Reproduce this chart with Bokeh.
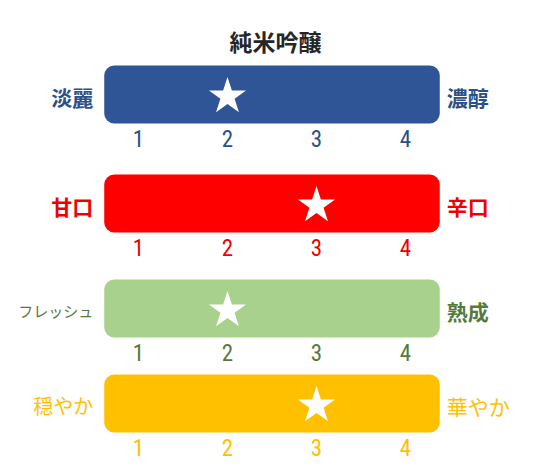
from bokeh.plotting import figure
from bokeh.models import Range1d, ColumnDataSource
from bokeh.core.properties import value
from bokeh.embed import file_html
from bokeh.resources import INLINE

# ---- data ----
title = "純米吟醸"
left_labels = ["淡麗", "甘口", "フレッシュ", "穏やか"]
right_labels = ["濃醇", "辛口", "熟成", "華やか"]
scores = [2, 3, 2, 3]
ticks = [1, 2, 3, 4]
tick_labels = ["1", "2", "3", "4"]

# ---- styles / layout ----
bar_colors = ["#2F5597", "#FF0000", "#A9D18E", "#FFC000"]
text_colors = ["#2C5085", "#F00000", "#557A3C", "#FFC000"]
left_sizes = ["21px", "21px", "15px", "20px"]
left_weights = ["bold", "bold", "normal", "normal"]
right_weights = ["bold", "bold", "bold", "normal"]
row_y = [94, 203, 308, 403]          # vertical centre of each bar (px from page top)
bar_half = 29
bar_pad = 0.385                      # bar extends beyond the first/last tick
CJK = "Noto Sans CJK JP"
NUM = "'Roboto Condensed', 'Roboto Light', 'DejaVu Sans Condensed', sans-serif"

W, H = 545, 470
x0, x1 = 1 - 138 / 89, 1 + (W - 138) / 89

p = figure(width=W, height=H, output_backend="svg", toolbar_location=None,
           x_range=Range1d(x0, x1), y_range=Range1d(H, 0),
           min_border=0, min_border_left=0, min_border_right=0,
           min_border_top=0, min_border_bottom=0)
p.axis.visible = False
p.grid.visible = False
p.outline_line_color = None
p.background_fill_color = "white"
p.border_fill_color = "white"

lo, hi = min(ticks) - bar_pad, max(ticks) + bar_pad

# bars
p.quad(left=[lo] * 4, right=[hi] * 4,
       top=[y - bar_half for y in row_y], bottom=[y + bar_half for y in row_y],
       fill_color=bar_colors, line_color=None, border_radius=10)

# stars
p.scatter(x=scores, y=[y + 2 for y in row_y], marker="star", size=39,
          fill_color="white", line_color=None)

# title
p.text(x=[(lo + hi) / 2 + 0.04], y=[40], text=[title], text_align="center",
       text_baseline="middle", text_font=value(CJK), text_font_size="23px",
       text_font_style="bold", text_color="#262626")

for i in range(4):
    # left / right labels
    p.text(x=[lo], y=[row_y[i] + 2], text=[left_labels[i]], x_offset=-11,
           text_align="right", text_baseline="middle", text_font=value(CJK),
           text_font_size=left_sizes[i], text_font_style=left_weights[i],
           text_color=text_colors[i])
    p.text(x=[hi], y=[row_y[i] + 2], text=[right_labels[i]], x_offset=7,
           text_align="left", text_baseline="middle", text_font=value(CJK),
           text_font_size="21px", text_font_style=right_weights[i],
           text_color=text_colors[i])
    # tick labels
    src = ColumnDataSource(dict(x=ticks, y=[row_y[i] + 44] * len(ticks), t=tick_labels))
    p.text(x="x", y="y", text="t", source=src, text_align="center",
           text_baseline="middle", text_font=value(NUM), text_font_size="23px",
           text_color=text_colors[i])

open("out.html", "w").write(file_html(p, INLINE))
